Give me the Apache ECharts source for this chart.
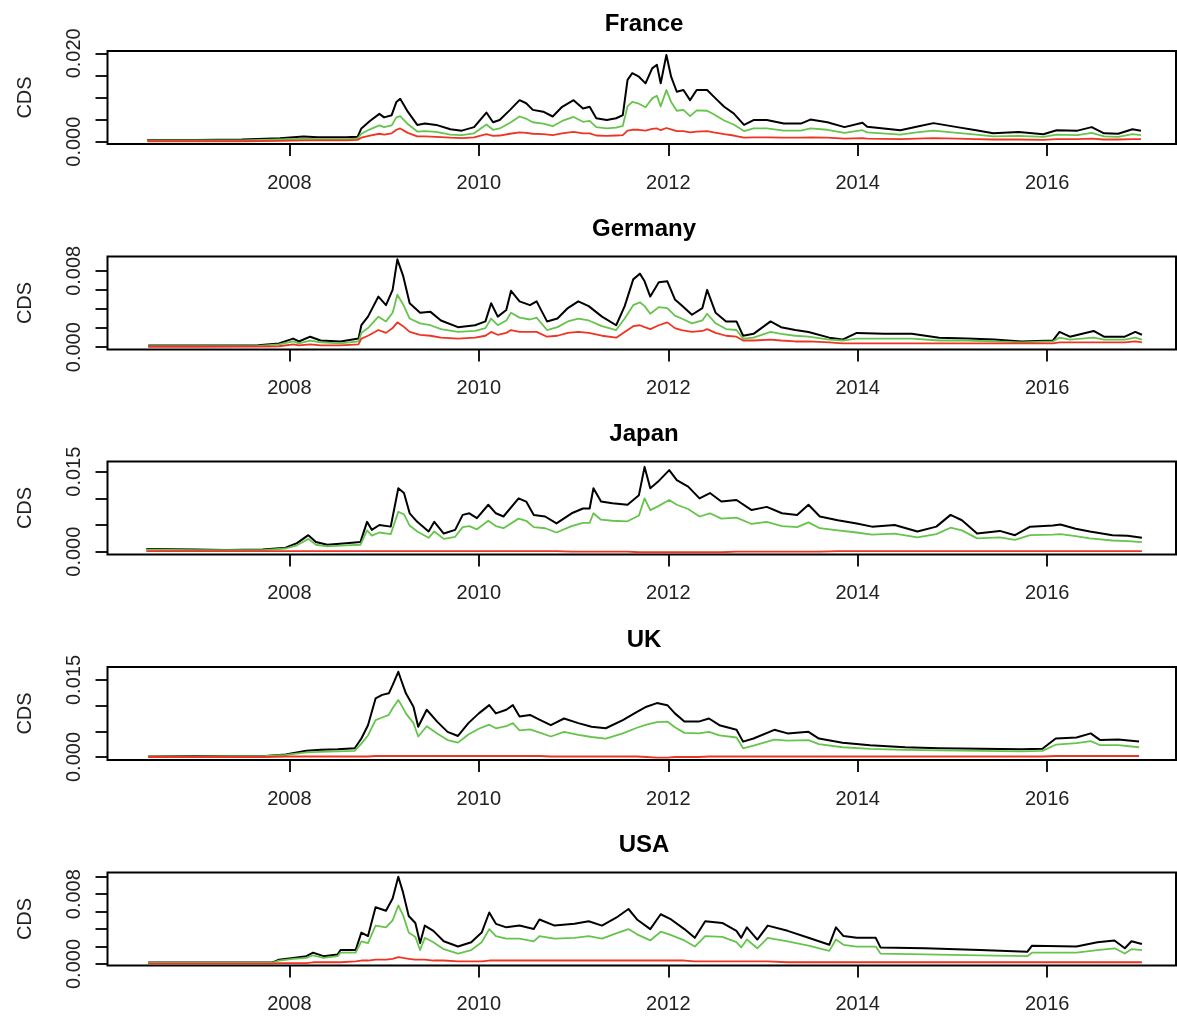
<!DOCTYPE html>
<html>
<head>
<meta charset="utf-8">
<script src="https://cdn.jsdelivr.net/npm/echarts@6/dist/echarts.min.js"></script>
<style>
html,body{margin:0;padding:0;background:#fff;}
#chart{width:1177px;height:1019px;}
</style>
</head>
<body>
<div id="chart"></div>
<script>
// ---------- data ----------
const panelTitles = ['France', 'Germany', 'Japan', 'UK', 'USA'];
const xTickValues = [2008, 2010, 2012, 2014, 2016];

const franceYTicks = [0, 0.005, 0.010, 0.015, 0.020];
const franceYLabels = [0, 0.020];
const germanyYTicks = [0, 0.002, 0.004, 0.006, 0.008];
const germanyYLabels = [0, 0.008];
const japanYTicks = [0, 0.005, 0.010, 0.015];
const japanYLabels = [0, 0.015];
const ukYTicks = [0, 0.005, 0.010, 0.015];
const ukYLabels = [0, 0.015];
const usaYTicks = [0, 0.002, 0.004, 0.006, 0.008, 0.010];
const usaYLabels = [0, 0.008];

const franceYears = [2006.50,2007.00,2007.50,2007.90,2008.15,2008.30,2008.60,2008.72,2008.76,2008.85,2008.95,2009.00,2009.08,2009.13,2009.17,2009.25,2009.35,2009.43,2009.55,2009.70,2009.82,2009.95,2010.08,2010.15,2010.22,2010.33,2010.43,2010.50,2010.57,2010.68,2010.78,2010.88,2011.00,2011.10,2011.17,2011.24,2011.35,2011.45,2011.52,2011.57,2011.62,2011.69,2011.76,2011.83,2011.88,2011.92,2011.98,2012.03,2012.09,2012.16,2012.23,2012.30,2012.41,2012.48,2012.59,2012.69,2012.80,2012.90,2013.04,2013.22,2013.40,2013.50,2013.68,2013.86,2014.05,2014.10,2014.45,2014.62,2014.80,2015.05,2015.25,2015.43,2015.70,2015.96,2016.10,2016.32,2016.47,2016.60,2016.75,2016.90,2016.99];
const franceBlack = [0.0004,0.0004,0.0005,0.0008,0.0012,0.0010,0.0010,0.0011,0.0030,0.0047,0.0063,0.0055,0.0060,0.0090,0.0097,0.0068,0.0038,0.0041,0.0038,0.0028,0.0025,0.0033,0.0066,0.0044,0.0049,0.0072,0.0094,0.0087,0.0072,0.0068,0.0057,0.0079,0.0094,0.0075,0.0079,0.0053,0.0049,0.0053,0.0060,0.0140,0.0155,0.0147,0.0132,0.0166,0.0174,0.0132,0.0196,0.0147,0.0113,0.0117,0.0094,0.0117,0.0117,0.0102,0.0079,0.0064,0.0038,0.0049,0.0049,0.0041,0.0041,0.0050,0.0044,0.0033,0.0043,0.0034,0.0026,0.0034,0.0042,0.0033,0.0026,0.0019,0.0022,0.0017,0.0026,0.0025,0.0033,0.0019,0.0018,0.0028,0.0025];
const franceGreen = [0.0003,0.0003,0.0003,0.0005,0.0007,0.0006,0.0006,0.0007,0.0018,0.0028,0.0037,0.0033,0.0037,0.0055,0.0058,0.0040,0.0023,0.0024,0.0022,0.0016,0.0015,0.0019,0.0039,0.0027,0.0030,0.0043,0.0057,0.0052,0.0044,0.0041,0.0035,0.0047,0.0056,0.0045,0.0047,0.0033,0.0030,0.0032,0.0036,0.0080,0.0090,0.0086,0.0078,0.0098,0.0104,0.0080,0.0117,0.0090,0.0070,0.0072,0.0058,0.0071,0.0070,0.0062,0.0048,0.0039,0.0024,0.0030,0.0030,0.0025,0.0025,0.0030,0.0027,0.0020,0.0026,0.0021,0.0016,0.0021,0.0025,0.0020,0.0016,0.0012,0.0013,0.0011,0.0016,0.0015,0.0020,0.0012,0.0011,0.0017,0.0015];
const franceRed = [0.0001,0.0001,0.0001,0.0002,0.0003,0.0003,0.0003,0.0004,0.0009,0.0014,0.0018,0.0016,0.0019,0.0027,0.0030,0.0020,0.0012,0.0012,0.0011,0.0009,0.0008,0.0010,0.0017,0.0013,0.0014,0.0018,0.0021,0.0020,0.0018,0.0017,0.0015,0.0019,0.0022,0.0019,0.0019,0.0014,0.0013,0.0014,0.0015,0.0025,0.0027,0.0027,0.0025,0.0029,0.0030,0.0026,0.0031,0.0028,0.0024,0.0024,0.0021,0.0023,0.0024,0.0021,0.0017,0.0014,0.0009,0.0010,0.0010,0.0009,0.0009,0.0010,0.0009,0.0007,0.0008,0.0007,0.0006,0.0007,0.0008,0.0007,0.0006,0.0005,0.0005,0.0004,0.0006,0.0006,0.0007,0.0005,0.0005,0.0006,0.0006];

const germanyYears = [2006.51,2007.00,2007.67,2007.89,2008.04,2008.10,2008.22,2008.33,2008.54,2008.73,2008.76,2008.83,2008.94,2009.02,2009.09,2009.14,2009.20,2009.27,2009.38,2009.49,2009.60,2009.78,2009.96,2010.07,2010.13,2010.20,2010.29,2010.34,2010.43,2010.54,2010.61,2010.72,2010.83,2010.94,2011.05,2011.16,2011.30,2011.45,2011.54,2011.63,2011.70,2011.75,2011.81,2011.90,2011.99,2012.07,2012.14,2012.25,2012.36,2012.41,2012.50,2012.61,2012.72,2012.79,2012.90,2013.08,2013.19,2013.34,2013.48,2013.70,2013.84,2013.99,2014.28,2014.57,2014.86,2015.15,2015.44,2015.73,2016.06,2016.13,2016.24,2016.49,2016.60,2016.82,2016.93,2017.00];
const germanyBlack = [0.00018,0.00018,0.0002,0.0004,0.0009,0.0006,0.0011,0.0007,0.0006,0.0009,0.0023,0.0032,0.0053,0.0044,0.0060,0.0092,0.0075,0.0046,0.0036,0.0037,0.0028,0.0021,0.0023,0.0027,0.0046,0.0032,0.0039,0.0059,0.0048,0.0044,0.0048,0.0027,0.0030,0.0041,0.0048,0.0043,0.0032,0.0023,0.0043,0.0071,0.0077,0.0069,0.0053,0.0068,0.0069,0.0050,0.0044,0.0034,0.0041,0.0060,0.0036,0.0027,0.0027,0.0012,0.0014,0.0027,0.0021,0.0018,0.0016,0.0010,0.0008,0.0015,0.0014,0.0014,0.0010,0.0009,0.0008,0.0006,0.0007,0.0016,0.0011,0.0017,0.0011,0.0011,0.0016,0.0013];
const germanyGreen = [0.00012,0.00012,0.00014,0.0003,0.0006,0.0004,0.0007,0.0005,0.0004,0.0006,0.0015,0.0020,0.0032,0.0027,0.0036,0.0055,0.0045,0.0030,0.0025,0.0023,0.0019,0.0016,0.0017,0.0020,0.0030,0.0023,0.0028,0.0036,0.0031,0.0029,0.0031,0.0018,0.0021,0.0027,0.0030,0.0028,0.0022,0.0018,0.0030,0.0044,0.0047,0.0043,0.0035,0.0042,0.0041,0.0033,0.0030,0.0025,0.0028,0.0035,0.0025,0.0019,0.0018,0.0009,0.0010,0.0016,0.0014,0.0012,0.0011,0.0008,0.0007,0.0009,0.0009,0.0009,0.0007,0.0007,0.0006,0.0005,0.0006,0.0010,0.0008,0.0010,0.0008,0.0008,0.0010,0.0008];
const germanyRed = [0.00005,0.00005,0.00006,0.0001,0.0003,0.0002,0.0003,0.0002,0.0002,0.0003,0.0009,0.0012,0.0018,0.0015,0.0020,0.0026,0.0022,0.0016,0.0013,0.0012,0.0010,0.0009,0.0010,0.0012,0.0016,0.0013,0.0015,0.0018,0.0016,0.0016,0.0016,0.0011,0.0012,0.0015,0.0016,0.0015,0.0012,0.0010,0.0016,0.0022,0.0023,0.0021,0.0019,0.0023,0.0026,0.0020,0.0018,0.0016,0.0017,0.0019,0.0015,0.0012,0.0011,0.0007,0.0007,0.0008,0.0007,0.0006,0.0006,0.0005,0.0004,0.0004,0.0004,0.0004,0.0004,0.0004,0.0004,0.0004,0.0004,0.0005,0.0005,0.0005,0.0005,0.0005,0.0006,0.0005];

const japanYears = [2006.49,2007.00,2007.33,2007.72,2007.96,2008.08,2008.20,2008.28,2008.40,2008.60,2008.75,2008.82,2008.87,2008.95,2009.07,2009.15,2009.21,2009.27,2009.35,2009.47,2009.53,2009.63,2009.75,2009.83,2009.90,2009.98,2010.10,2010.18,2010.26,2010.42,2010.50,2010.58,2010.70,2010.82,2010.98,2011.10,2011.17,2011.21,2011.29,2011.41,2011.57,2011.69,2011.75,2011.81,2011.89,2012.01,2012.09,2012.21,2012.33,2012.44,2012.56,2012.72,2012.88,2013.04,2013.20,2013.36,2013.48,2013.60,2013.79,2013.99,2014.15,2014.39,2014.63,2014.83,2014.98,2015.10,2015.26,2015.50,2015.66,2015.82,2016.06,2016.14,2016.30,2016.45,2016.69,2016.85,2017.00];
const japanBlack = [0.0005,0.0004,0.0003,0.0004,0.00075,0.0016,0.0031,0.0018,0.0013,0.0016,0.0018,0.0056,0.0041,0.0050,0.0047,0.0119,0.0110,0.0072,0.0056,0.0038,0.0056,0.0034,0.0041,0.0069,0.0072,0.0063,0.0088,0.0072,0.0066,0.0100,0.0094,0.0069,0.0066,0.0053,0.0072,0.0081,0.0081,0.0119,0.0094,0.0091,0.0088,0.0106,0.0159,0.0119,0.0131,0.0153,0.0134,0.0122,0.0100,0.0110,0.0094,0.0097,0.0078,0.0084,0.0072,0.0069,0.0088,0.0066,0.0059,0.0053,0.0047,0.0050,0.0038,0.0047,0.0069,0.0059,0.0034,0.0039,0.0031,0.0047,0.0049,0.0051,0.0043,0.0038,0.0031,0.0030,0.0026];
const japanGreen = [0.0004,0.0003,0.0003,0.0003,0.0006,0.0012,0.0024,0.0013,0.0010,0.0012,0.0013,0.0040,0.0030,0.0036,0.0033,0.0075,0.0070,0.0049,0.0038,0.0026,0.0038,0.0024,0.0028,0.0046,0.0048,0.0042,0.0058,0.0048,0.0044,0.0062,0.0058,0.0046,0.0044,0.0036,0.0048,0.0054,0.0054,0.0072,0.0060,0.0058,0.0057,0.0068,0.0100,0.0078,0.0085,0.0097,0.0088,0.0080,0.0066,0.0072,0.0062,0.0064,0.0052,0.0056,0.0048,0.0046,0.0055,0.0044,0.0040,0.0036,0.0032,0.0034,0.0027,0.0033,0.0045,0.0040,0.0025,0.0027,0.0022,0.0031,0.0032,0.0033,0.0029,0.0025,0.0021,0.0020,0.0018];
const japanRed = [0.0001,0.0001,0.0001,0.0001,0.0001,0.0001,0.0001,0.0001,0.0001,0.0001,0.0001,0.0001,0.0001,0.0001,0.0001,0.0001,0.0001,0.0001,0.0001,0.0001,0.0001,0.0001,0.0001,0.0001,0.0001,0.0001,0.0001,0.0001,0.0001,0.0001,0.0001,0.0001,0.0001,0.0001,0.0000,0.0000,0.0000,0.0000,0.0000,0.0000,0.0000,-0.0001,-0.0001,-0.0001,-0.0001,-0.0001,-0.0001,-0.0001,-0.0001,-0.0001,-0.0001,0.0000,0.0000,0.0000,0.0000,0.0000,0.0000,0.0000,0.0001,0.0001,0.0001,0.0001,0.0001,0.0001,0.0001,0.0001,0.0001,0.0001,0.0001,0.0001,0.0001,0.0001,0.0001,0.0001,0.0001,0.0001,0.0001];

const ukYears = [2006.51,2007.00,2007.75,2007.96,2008.18,2008.33,2008.51,2008.69,2008.76,2008.83,2008.91,2008.98,2009.05,2009.09,2009.15,2009.18,2009.23,2009.31,2009.36,2009.45,2009.56,2009.67,2009.78,2009.89,2010.00,2010.11,2010.18,2010.29,2010.36,2010.43,2010.54,2010.65,2010.76,2010.90,2011.05,2011.19,2011.34,2011.52,2011.67,2011.77,2011.88,2011.99,2012.07,2012.17,2012.32,2012.43,2012.54,2012.72,2012.79,2012.90,2013.12,2013.26,2013.48,2013.59,2013.84,2014.13,2014.50,2014.86,2015.30,2015.73,2015.95,2016.09,2016.31,2016.46,2016.56,2016.75,2016.97];
const ukBlack = [0.0001,0.0002,0.0002,0.0005,0.0012,0.0014,0.0015,0.0017,0.0036,0.0062,0.0114,0.0121,0.0124,0.0140,0.0166,0.0150,0.0124,0.0098,0.0059,0.0092,0.0069,0.0049,0.0041,0.0066,0.0085,0.0101,0.0085,0.0092,0.0101,0.0079,0.0082,0.0072,0.0062,0.0075,0.0066,0.0059,0.0056,0.0072,0.0088,0.0098,0.0105,0.0101,0.0085,0.0069,0.0069,0.0075,0.0062,0.0053,0.0030,0.0036,0.0053,0.0046,0.0049,0.0036,0.0028,0.0023,0.0019,0.0017,0.0016,0.0015,0.0016,0.0036,0.0038,0.0046,0.0033,0.0034,0.0030];
const ukGreen = [0.0001,0.0001,0.0002,0.0004,0.0009,0.0010,0.0011,0.0012,0.0026,0.0042,0.0072,0.0077,0.0082,0.0095,0.0111,0.0102,0.0085,0.0066,0.0040,0.0060,0.0046,0.0033,0.0028,0.0044,0.0055,0.0063,0.0056,0.0060,0.0066,0.0052,0.0054,0.0047,0.0040,0.0049,0.0043,0.0039,0.0036,0.0046,0.0057,0.0063,0.0068,0.0069,0.0058,0.0047,0.0046,0.0049,0.0042,0.0038,0.0017,0.0022,0.0034,0.0032,0.0033,0.0025,0.0019,0.0016,0.0014,0.0013,0.0012,0.0011,0.0012,0.0024,0.0027,0.0031,0.0023,0.0023,0.0019];
const ukRed = [0.0000,0.0000,0.0000,0.0001,0.0001,0.0001,0.0001,0.0001,0.0001,0.0001,0.0002,0.0002,0.0002,0.0002,0.0002,0.0002,0.0002,0.0002,0.0002,0.0002,0.0002,0.0002,0.0002,0.0002,0.0002,0.0002,0.0002,0.0002,0.0002,0.0002,0.0002,0.0002,0.0001,0.0001,0.0001,0.0001,0.0001,0.0001,0.0001,0.0000,-0.0001,-0.0001,0.0000,0.0000,0.0000,0.0001,0.0001,0.0001,0.0001,0.0001,0.0001,0.0001,0.0001,0.0001,0.0001,0.0001,0.0001,0.0001,0.0001,0.0001,0.0001,0.0002,0.0002,0.0002,0.0002,0.0002,0.0002];

const usaYears = [2006.51,2007.00,2007.82,2007.89,2008.04,2008.18,2008.25,2008.36,2008.51,2008.54,2008.70,2008.76,2008.83,2008.91,2009.02,2009.09,2009.15,2009.20,2009.26,2009.33,2009.38,2009.43,2009.52,2009.63,2009.78,2009.92,2010.03,2010.11,2010.18,2010.29,2010.43,2010.58,2010.64,2010.80,2011.01,2011.16,2011.30,2011.45,2011.58,2011.67,2011.81,2011.92,2012.03,2012.17,2012.28,2012.39,2012.57,2012.72,2012.77,2012.83,2012.94,2013.05,2013.26,2013.48,2013.70,2013.77,2013.85,2013.99,2014.19,2014.24,2014.71,2015.29,2015.79,2015.84,2016.31,2016.53,2016.71,2016.82,2016.89,2017.00];
const usaBlack = [0.00016,0.00016,0.00016,0.0005,0.0007,0.0009,0.0013,0.0009,0.0011,0.0016,0.0016,0.0036,0.0032,0.0065,0.0061,0.0075,0.0100,0.0082,0.0055,0.0047,0.0024,0.0044,0.0038,0.0026,0.0020,0.0025,0.0036,0.0059,0.0046,0.0042,0.0044,0.0040,0.0051,0.0044,0.0046,0.0049,0.0044,0.0053,0.0063,0.0051,0.0040,0.0057,0.0051,0.0040,0.0030,0.0049,0.0047,0.0038,0.0030,0.0042,0.0028,0.0044,0.0038,0.0030,0.0022,0.0042,0.0032,0.0030,0.0030,0.0019,0.0018,0.0016,0.0014,0.0021,0.0020,0.0025,0.0027,0.0018,0.0026,0.0023];
const usaGreen = [0.00014,0.00014,0.00014,0.0004,0.0006,0.0007,0.0010,0.0007,0.0009,0.0013,0.0013,0.0026,0.0024,0.0044,0.0042,0.0050,0.0067,0.0056,0.0036,0.0031,0.0016,0.0030,0.0025,0.0017,0.0012,0.0016,0.0025,0.0040,0.0032,0.0029,0.0029,0.0026,0.0032,0.0029,0.0030,0.0032,0.0029,0.0035,0.0040,0.0034,0.0027,0.0037,0.0033,0.0027,0.0020,0.0032,0.0031,0.0025,0.0019,0.0028,0.0018,0.0030,0.0026,0.0021,0.0015,0.0028,0.0022,0.0020,0.0020,0.0012,0.0011,0.0010,0.0009,0.0013,0.0013,0.0016,0.0018,0.0012,0.0017,0.0016];
const usaRed = [0.00005,0.00005,0.00005,0.0001,0.0001,0.0001,0.0002,0.0002,0.0002,0.0002,0.0003,0.0004,0.0004,0.0005,0.0005,0.0006,0.0008,0.0007,0.0006,0.0005,0.0005,0.0005,0.0004,0.0004,0.0003,0.0003,0.0003,0.0004,0.0004,0.0004,0.0004,0.0004,0.0004,0.0004,0.0004,0.0004,0.0004,0.0004,0.0004,0.0004,0.0004,0.0004,0.0004,0.0004,0.0003,0.0003,0.0003,0.0003,0.0003,0.0003,0.0003,0.0003,0.0002,0.0002,0.0002,0.0002,0.0002,0.0002,0.0002,0.0002,0.0002,0.0002,0.0002,0.0002,0.0002,0.0002,0.0002,0.0002,0.0002,0.0002];

// ---------- layout / build ----------
const panels = [
  {years: franceYears, black: franceBlack, green: franceGreen, red: franceRed, ticks: franceYTicks, labels: franceYLabels, ymin: -0.00052, ymax: 0.02052, top: 51},
  {years: germanyYears, black: germanyBlack, green: germanyGreen, red: germanyRed, ticks: germanyYTicks, labels: germanyYLabels, ymin: -0.00024, ymax: 0.009495, top: 256.5},
  {years: japanYears, black: japanBlack, green: japanGreen, red: japanRed, ticks: japanYTicks, labels: japanYLabels, ymin: -0.000525, ymax: 0.01691, top: 461.5},
  {years: ukYears, black: ukBlack, green: ukGreen, red: ukRed, ticks: ukYTicks, labels: ukYLabels, ymin: -0.00058, ymax: 0.01753, top: 667},
  {years: usaYears, black: usaBlack, green: usaGreen, red: usaRed, ticks: usaYTicks, labels: usaYLabels, ymin: -0.00017, ymax: 0.01048, top: 872.5}
];
const FONT = 'Liberation Sans, Arial, sans-serif';
const GRID_LEFT = 107.5, GRID_W = 1068.5, GRID_H = 93;

const grid = [], xAxis = [], yAxis = [], series = [], title = [];
panels.forEach((p, i) => {
  grid.push({left: GRID_LEFT, top: p.top, width: GRID_W, height: GRID_H, show: true,
    borderColor: '#000', borderWidth: 2, backgroundColor: 'transparent', containLabel: false});
  title.push({text: panelTitles[i], left: 639, top: p.top - 44, textAlign: 'center',
    textStyle: {fontFamily: FONT, fontSize: 24, fontWeight: 'bold', color: '#000'}});
  xAxis.push({gridIndex: i, type: 'value', min: 2006.08, max: 2017.36,
    splitLine: {show: false},
    axisLine: {show: false, onZero: false},
    axisTick: {show: true, inside: false, length: 12, customValues: xTickValues, lineStyle: {color: '#000', width: 1.8}},
    axisLabel: {customValues: xTickValues, margin: 29, fontSize: 20, fontFamily: FONT, color: '#222', formatter: v => String(Math.round(v))}
  });
  yAxis.push({gridIndex: i, type: 'value', min: p.ymin, max: p.ymax,
    splitLine: {show: false},
    axisLine: {show: false, onZero: false},
    axisTick: {show: true, inside: false, length: 12, customValues: p.ticks, lineStyle: {color: '#000', width: 1.8}},
    axisLabel: {customValues: p.labels, rotate: 90, margin: 23, fontSize: 20, fontFamily: FONT, color: '#222', formatter: v => v.toFixed(3)},
    name: 'CDS', nameLocation: 'middle', nameRotate: 90, nameGap: 72,
    nameTextStyle: {fontSize: 20, fontFamily: FONT, color: '#222'}
  });
  const mk = (vals) => p.years.map((y, k) => [y, vals[k]]);
  [['black', '#000000', 2], ['green', '#66C44C', 1.8], ['red', '#EE3424', 1.8]].forEach(([key, col, w]) => {
    series.push({type: 'line', xAxisIndex: i, yAxisIndex: i, data: mk(p[key]), showSymbol: false, symbol: 'none',
      lineStyle: {color: col, width: w, join: 'round'}, itemStyle: {color: col}, silent: true, animation: false});
  });
});

const chart = echarts.init(document.getElementById('chart'), null, {renderer: 'canvas'});
chart.setOption({animation: false, backgroundColor: '#fff', title, grid, xAxis, yAxis, series});
</script>
</body>
</html>
